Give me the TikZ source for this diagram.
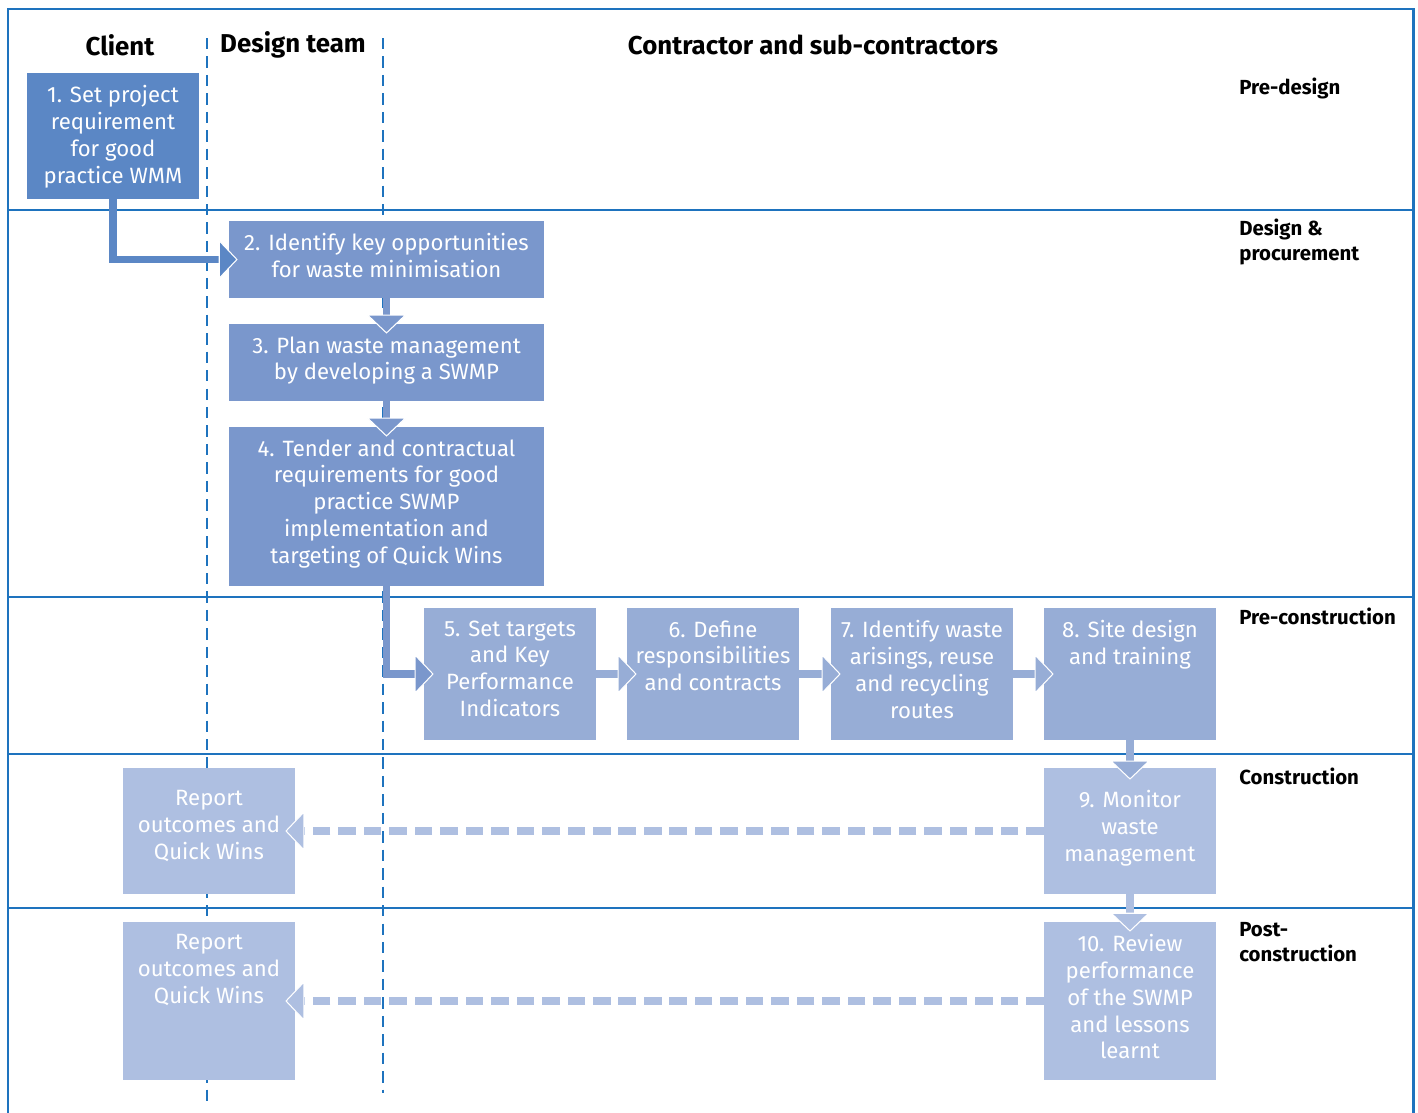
\documentclass[tikz,border=0pt]{standalone}
\usepackage{fontspec}
\setmainfont{Fira Sans}
\usetikzlibrary{arrows.meta}
\definecolor{laneblue}{RGB}{30,115,190}
\definecolor{darkbox}{RGB}{91,135,197}
\definecolor{midbox}{RGB}{122,151,204}
\definecolor{lightbox}{RGB}{151,173,214}
\definecolor{palebox}{RGB}{174,191,225}
\tikzstyle{frame}=[laneblue, line width=1.7pt]
\tikzstyle{lane}=[laneblue, line width=0.85pt]
\tikzstyle{swim}=[laneblue, line width=1.1pt, dash pattern=on 6.5pt off 4pt]
\tikzstyle{phase}=[anchor=north west, align=left, inner sep=0pt,
  font=\bfseries\fontsize{11.6}{14}\selectfont]
\tikzstyle{head}=[font=\bfseries\fontsize{14.7}{17}\selectfont]
\tikzset{
  box/.style={fill=#1, inner sep=0pt},
  txt/.style={anchor=north, align=center, text=white, inner sep=0pt,
    yshift=-7.2pt, font=\fontsize{12.6}{15.2}\selectfont},
  flow/.style={draw=#1, line width=4.5pt,
    -{Triangle[length=10.8pt, width=22.7pt, fill=#1, color=white, line width=0.6pt]}},
  back/.style={flow=#1, dash pattern=on 10pt off 4.5pt}
}

\begin{document}
\begin{tikzpicture}[x=0.02cm, y=-0.02cm]
    \useasboundingbox (0,0) rectangle (1418,1113);
    % lanes
    \draw[frame] (8,1113) -- (8,9) -- (1413,9) -- (1413,1113);
    \foreach \y in {210,597,754,908}
        \draw[lane] (8,\y) -- (1413,\y);
    \draw[swim] (207,38) -- (207,1103);
    \draw[swim] (383,38) -- (383,1093);
    \node[head] (client) at (120,45) {Client};
    \node[head] (design) at (293,45) {Design team};
    \node[head] (contractor) at (813,45) {Contractor and sub-contractors};
    \node[phase] (predesign) at (1239,78) {Pre-design};
    \node[phase] (procure) at (1239,219) {Design \&\\procurement};
    \node[phase] (precons) at (1239,608) {Pre-construction};
    \node[phase] (cons) at (1239,768) {Construction};
    \node[phase] (postcons) at (1239,922) {Post-\\construction};
    % steps
    \node[box=darkbox, minimum width=3.44cm, minimum height=2.52cm,
        label={[txt]north:{1. Set project\\requirement\\for good\\practice WMM}}] (s1) at (113,136) {};
    \node[box=midbox, minimum width=6.3cm, minimum height=1.54cm,
        label={[txt]north:{2. Identify key opportunities\\for waste minimisation}}] (s2) at (386.5,259.5) {};
    \node[box=midbox, minimum width=6.3cm, minimum height=1.54cm,
        label={[txt]north:{3. Plan waste management\\by developing a SWMP}}] (s3) at (386.5,362.5) {};
    \node[box=midbox, minimum width=6.3cm, minimum height=3.18cm,
        label={[txt]north:{4. Tender and contractual\\requirements for good\\practice SWMP\\implementation and\\targeting of Quick Wins}}] (s4) at (386.5,506.5) {};
    \node[box=lightbox, minimum width=3.44cm, minimum height=2.64cm,
        label={[txt]north:{5. Set targets\\and Key\\Performance\\Indicators}}] (s5) at (510,674) {};
    \node[box=lightbox, minimum width=3.44cm, minimum height=2.64cm,
        label={[txt]north:{6. Define\\responsibilities\\and contracts}}] (s6) at (713,674) {};
    \node[box=lightbox, minimum width=3.64cm, minimum height=2.64cm,
        label={[txt]north:{7. Identify waste\\arisings, reuse\\and recycling\\routes}}] (s7) at (922,674) {};
    \node[box=lightbox, minimum width=3.44cm, minimum height=2.64cm,
        label={[txt]north:{8. Site design\\and training}}] (s8) at (1130,674) {};
    \node[box=palebox, minimum width=3.44cm, minimum height=2.52cm,
        label={[txt, yshift=-5.5pt]north:{9. Monitor\\waste\\management}}] (s9) at (1130,831) {};
    \node[box=palebox, minimum width=3.44cm, minimum height=3.16cm,
        label={[txt]north:{10. Review\\performance\\of the SWMP\\and lessons\\learnt}}] (s10) at (1130,1001) {};
    \node[box=palebox, minimum width=3.44cm, minimum height=2.52cm,
        label={[txt, yshift=-5.5pt]north:{Report\\outcomes and\\Quick Wins}}] (rep9) at (209,831) {};
    \node[box=palebox, minimum width=3.44cm, minimum height=3.16cm,
        label={[txt]north:{Report\\outcomes and\\Quick Wins}}] (rep10) at (209,1001) {};
    % flow
    \draw[flow=darkbox] (s1.south) |- ([xshift=0.18cm]s2.west);
    \draw[flow=midbox] (s2.south) -- ([yshift=-0.2cm]s3.north);
    \draw[flow=midbox] (s3.south) -- ([yshift=-0.2cm]s4.north);
    \draw[flow=midbox] (s4.south) |- ([xshift=0.2cm]s5.west);
    \draw[flow=lightbox] (s5.east) -- ([xshift=0.2cm]s6.west);
    \draw[flow=lightbox] (s6.east) -- ([xshift=0.2cm]s7.west);
    \draw[flow=lightbox] (s7.east) -- ([xshift=0.2cm]s8.west);
    \draw[flow=lightbox] (s8.south) -- ([yshift=-0.24cm]s9.north);
    \draw[flow=palebox] (s9.south) -- ([yshift=-0.2cm]s10.north);
    \draw[back=palebox] (s9.west) -- ([xshift=-0.2cm]rep9.east);
    \draw[back=palebox] (s10.west) -- ([xshift=-0.2cm]rep10.east);
\end{tikzpicture}
\end{document}
